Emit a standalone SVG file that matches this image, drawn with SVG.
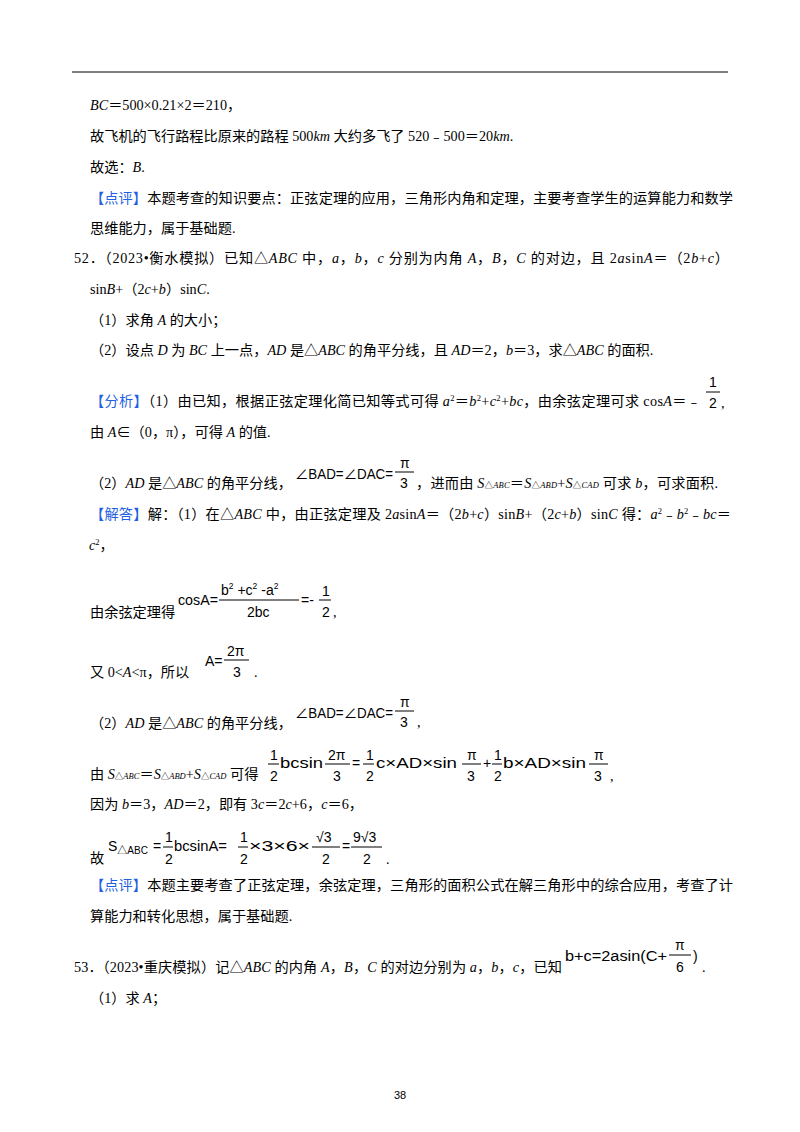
<svg xmlns="http://www.w3.org/2000/svg" width="800" height="1132" viewBox="0 0 800 1132">
<style>
text{font-family:"Liberation Serif","Noto Sans CJK SC",serif;font-size:14.2px;fill:#000}
.b{fill:#1f5fe0}
.i{font-style:italic}
text.m,.m{font-family:"Liberation Sans","Noto Sans CJK SC",sans-serif;font-size:14px}
.s{font-size:8.5px}
line{stroke:#000;stroke-width:1}
</style>
<rect width="800" height="1132" fill="#fff"/>
<line x1="72" y1="72" x2="728" y2="72" stroke-width="1.5"/>
<text x="90" y="110"><tspan class="i">BC</tspan>＝500×0.21×2＝210，</text>
<text x="90" y="141">故飞机的飞行路程比原来的路程 500<tspan class="i">km</tspan> 大约多飞了 520﹣500＝20<tspan class="i">km</tspan>.</text>
<text x="90" y="172">故选：<tspan class="i">B</tspan>.</text>
<text x="90" y="203" textLength="643"><tspan class="b">【点评】</tspan>本题考查的知识要点：正弦定理的应用，三角形内角和定理，主要考查学生的运算能力和数学</text>
<text x="90" y="233">思维能力，属于基础题.</text>
<text x="74" y="263" textLength="655">52．（2023•衡水模拟）已知△<tspan class="i">ABC</tspan> 中，<tspan class="i">a</tspan>，<tspan class="i">b</tspan>，<tspan class="i">c</tspan> 分别为内角 <tspan class="i">A</tspan>，<tspan class="i">B</tspan>，<tspan class="i">C</tspan> 的对边，且 2<tspan class="i">a</tspan>sin<tspan class="i">A</tspan>＝（2<tspan class="i">b</tspan>+<tspan class="i">c</tspan>）</text>
<text x="90" y="294">sin<tspan class="i">B</tspan>+（2<tspan class="i">c</tspan>+<tspan class="i">b</tspan>）sin<tspan class="i">C</tspan>.</text>
<text x="90" y="325">（1）求角 <tspan class="i">A</tspan> 的大小；</text>
<text x="90" y="355">（2）设点 <tspan class="i">D</tspan> 为 <tspan class="i">BC</tspan> 上一点，<tspan class="i">AD</tspan> 是△<tspan class="i">ABC</tspan> 的角平分线，且 <tspan class="i">AD</tspan>＝2，<tspan class="i">b</tspan>＝3，求△<tspan class="i">ABC</tspan> 的面积.</text>

<text x="90" y="406" textLength="611"><tspan class="b">【分析】</tspan>（1）由已知，根据正弦定理化简已知等式可得 <tspan class="i">a</tspan><tspan class="s" dy="-5">2</tspan><tspan dy="5">＝</tspan><tspan class="i">b</tspan><tspan class="s" dy="-5">2</tspan><tspan dy="5">+</tspan><tspan class="i">c</tspan><tspan class="s" dy="-5">2</tspan><tspan dy="5">+</tspan><tspan class="i">bc</tspan>，由余弦定理可求 cos<tspan class="i">A</tspan>＝﹣</text>
<text x="709" y="387" class="m" font-size="15">1</text><line x1="706" y1="392" x2="720" y2="392"/><text x="709" y="408" class="m">2</text><text x="721" y="408">,</text>
<text x="90" y="437">由 <tspan class="i">A</tspan>∈（0，π），可得 <tspan class="i">A</tspan> 的值.</text>
<text x="90" y="488">（2）<tspan class="i">AD</tspan> 是△<tspan class="i">ABC</tspan> 的角平分线，</text>
<text x="295" y="479" class="m" textLength="98" lengthAdjust="spacingAndGlyphs">∠BAD=∠DAC=</text><text x="400" y="468" class="m">π</text><line x1="395" y1="472" x2="414" y2="472"/><text x="400" y="488" class="m">3</text>
<text x="416" y="488" textLength="302">，进而由 <tspan class="i">S</tspan><tspan class="s">△</tspan><tspan class="s i">ABC</tspan>＝<tspan class="i">S</tspan><tspan class="s">△</tspan><tspan class="s i">ABD</tspan>+<tspan class="i">S</tspan><tspan class="s">△</tspan><tspan class="s i">CAD</tspan> 可求 <tspan class="i">b</tspan>，可求面积.</text>
<text x="90" y="519" textLength="641"><tspan class="b">【解答】</tspan>解：（1）在△<tspan class="i">ABC</tspan> 中，由正弦定理及 2<tspan class="i">a</tspan>sin<tspan class="i">A</tspan>＝（2<tspan class="i">b</tspan>+<tspan class="i">c</tspan>）sin<tspan class="i">B</tspan>+（2<tspan class="i">c</tspan>+<tspan class="i">b</tspan>）sin<tspan class="i">C</tspan> 得：<tspan class="i">a</tspan><tspan class="s" dy="-5">2</tspan><tspan dy="5">﹣</tspan><tspan class="i">b</tspan><tspan class="s" dy="-5">2</tspan><tspan dy="5">﹣</tspan><tspan class="i">bc</tspan>＝</text>
<text x="89" y="550"><tspan class="i">c</tspan><tspan class="s" dy="-5">2</tspan><tspan dy="5">，</tspan></text>

<text x="90" y="617">由余弦定理得</text>
<text x="178" y="605" class="m" textLength="40" lengthAdjust="spacingAndGlyphs">cosA=</text>
<text x="221" y="595" class="m"><tspan>b</tspan><tspan class="s" dy="-6">2</tspan><tspan dy="6"> +c</tspan><tspan class="s" dy="-6">2</tspan><tspan dy="6"> -a</tspan><tspan class="s" dy="-6">2</tspan></text>
<line x1="219" y1="600" x2="299" y2="600"/>
<text x="247" y="617" class="m">2bc</text>
<text x="301" y="605" class="m">=-</text>
<text x="322" y="596" class="m">1</text><line x1="319" y1="600" x2="331" y2="600"/><text x="322" y="617" class="m">2</text><text x="333" y="617">,</text>

<text x="90" y="677">又 0&lt;<tspan class="i">A</tspan>&lt;π，所以</text>
<text x="205" y="666" class="m">A=</text>
<text x="227" y="656" class="m">2π</text><line x1="224" y1="660" x2="249" y2="660"/><text x="233" y="677" class="m">3</text><text x="254" y="677">.</text>

<text x="90" y="728">（2）<tspan class="i">AD</tspan> 是△<tspan class="i">ABC</tspan> 的角平分线，</text>
<text x="295" y="718" class="m" textLength="98" lengthAdjust="spacingAndGlyphs">∠BAD=∠DAC=</text><text x="400" y="707" class="m">π</text><line x1="395" y1="711" x2="414" y2="711"/><text x="400" y="727" class="m">3</text><text x="417" y="727">,</text>

<text x="90" y="779">由 <tspan class="i">S</tspan><tspan class="s">△</tspan><tspan class="s i">ABC</tspan>＝<tspan class="i">S</tspan><tspan class="s">△</tspan><tspan class="s i">ABD</tspan>+<tspan class="i">S</tspan><tspan class="s">△</tspan><tspan class="s i">CAD</tspan> 可得</text>
<text x="270" y="760" class="m">1</text><line x1="268" y1="764" x2="279" y2="764"/><text x="270" y="781" class="m">2</text>
<text x="280" y="768" class="m" textLength="43" lengthAdjust="spacingAndGlyphs">bcsin</text>
<text x="328" y="760" class="m">2π</text><line x1="325" y1="764" x2="350" y2="764"/><text x="333" y="781" class="m">3</text>
<text x="352" y="768" class="m">=</text>
<text x="366" y="760" class="m">1</text><line x1="363" y1="764" x2="374" y2="764"/><text x="366" y="781" class="m">2</text>
<text x="376" y="768" class="m" textLength="81" lengthAdjust="spacingAndGlyphs">c×AD×sin</text>
<text x="467" y="760" class="m">π</text><line x1="462" y1="764" x2="481" y2="764"/><text x="467" y="781" class="m">3</text>
<text x="483" y="768" class="m">+</text>
<text x="494" y="760" class="m">1</text><line x1="492" y1="764" x2="502" y2="764"/><text x="494" y="781" class="m">2</text>
<text x="503" y="768" class="m" textLength="83" lengthAdjust="spacingAndGlyphs">b×AD×sin</text>
<text x="594" y="760" class="m">π</text><line x1="589" y1="764" x2="608" y2="764"/><text x="594" y="781" class="m">3</text>
<text x="610" y="781">,</text>

<text x="90" y="809">因为 <tspan class="i">b</tspan>＝3，<tspan class="i">AD</tspan>＝2，即有 3<tspan class="i">c</tspan>＝2<tspan class="i">c</tspan>+6，<tspan class="i">c</tspan>＝6，</text>

<text x="90" y="863">故</text>
<text x="108" y="851" class="m">S<tspan font-size="10" dy="3">△ABC</tspan></text>
<text x="153" y="851" class="m">=</text>
<text x="165" y="842" class="m">1</text><line x1="163" y1="847" x2="173" y2="847"/><text x="165" y="864" class="m">2</text>
<text x="174" y="851" class="m" textLength="53" lengthAdjust="spacingAndGlyphs">bcsinA=</text>
<text x="240" y="842" class="m">1</text><line x1="238" y1="847" x2="248" y2="847"/><text x="240" y="864" class="m">2</text>
<text x="249" y="851" class="m" textLength="61" lengthAdjust="spacingAndGlyphs">×3×6×</text>
<text x="316" y="842" class="m">√3</text><line x1="312" y1="847" x2="340" y2="847"/><text x="322" y="864" class="m">2</text>
<text x="342" y="851" class="m">=</text>
<text x="353" y="842" class="m">9√3</text><line x1="351" y1="847" x2="382" y2="847"/><text x="363" y="864" class="m">2</text>
<text x="386" y="864">.</text>

<text x="90" y="890" textLength="643"><tspan class="b">【点评】</tspan>本题主要考查了正弦定理，余弦定理，三角形的面积公式在解三角形中的综合应用，考查了计</text>
<text x="90" y="921">算能力和转化思想，属于基础题.</text>
<text x="74" y="972" textLength="488">53．（2023•重庆模拟）记△<tspan class="i">ABC</tspan> 的内角 <tspan class="i">A</tspan>，<tspan class="i">B</tspan>，<tspan class="i">C</tspan> 的对边分别为 <tspan class="i">a</tspan>，<tspan class="i">b</tspan>，<tspan class="i">c</tspan>，已知</text>
<text x="565" y="961" class="m" textLength="102" lengthAdjust="spacingAndGlyphs">b+c=2asin(C+</text>
<text x="675" y="950" class="m">π</text><line x1="669" y1="955" x2="691" y2="955"/><text x="676" y="972" class="m">6</text>
<text x="693" y="961" class="m">)</text><text x="702" y="972">.</text>
<text x="90" y="1003">（1）求 <tspan class="i">A</tspan>；</text>
<text x="400" y="1099" text-anchor="middle" style="font-family:'Liberation Sans',sans-serif;font-size:11px">38</text>
</svg>
